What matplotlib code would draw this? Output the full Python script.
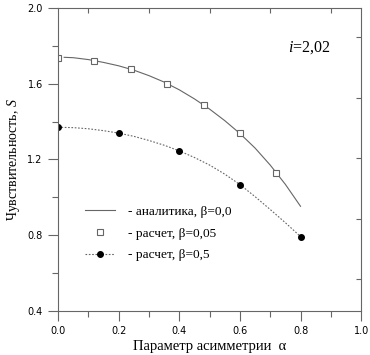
import matplotlib.pyplot as plt
from matplotlib.lines import Line2D

plt.rcParams['mathtext.fontset'] = 'custom'
plt.rcParams['mathtext.rm'] = 'Liberation Serif'
plt.rcParams['mathtext.it'] = 'Liberation Serif:italic'

# analytic curve, beta = 0.0
alpha_an = [0.02, 0.05, 0.1, 0.15, 0.2, 0.25, 0.3, 0.35, 0.4, 0.45, 0.5,
            0.55, 0.6, 0.65, 0.7, 0.75, 0.8]
s_an = [1.740, 1.738, 1.728, 1.713, 1.695, 1.672, 1.643, 1.609, 1.568, 1.520,
        1.466, 1.405, 1.337, 1.260, 1.170, 1.068, 0.952]

# calculated, beta = 0.05
alpha_sq = [0.0, 0.12, 0.24, 0.36, 0.48, 0.6, 0.72]
s_sq = [1.735, 1.721, 1.677, 1.601, 1.49, 1.339, 1.13]

# calculated, beta = 0.5
alpha_dot = [0.0, 0.05, 0.1, 0.15, 0.2, 0.25, 0.3, 0.35, 0.4, 0.45, 0.5,
             0.55, 0.6, 0.65, 0.7, 0.75, 0.8]
s_dot = [1.370, 1.368, 1.362, 1.352, 1.339, 1.322, 1.300, 1.275, 1.245, 1.210,
         1.170, 1.122, 1.067, 1.003, 0.935, 0.865, 0.792]
alpha_pts = [0.0, 0.2, 0.4, 0.6, 0.8]
s_pts = [1.37, 1.339, 1.245, 1.067, 0.792]

x_ticks = [0.0, 0.2, 0.4, 0.6, 0.8, 1.0]
x_minor = [0.1, 0.3, 0.5, 0.7, 0.9]
y_ticks = [0.4, 0.8, 1.2, 1.6, 2.0]
y_minor = [0.6, 1.0, 1.4, 1.8]
right_ticks = [0.566, 0.885, 1.21, 1.524, 1.845]

grey = '#666666'
serif = 'Liberation Serif'

fig = plt.figure(figsize=(3.7, 3.55), dpi=100)
ax = fig.add_axes([0.157, 0.125, 0.819, 0.852])

ax.plot(alpha_an, s_an, color=grey, lw=0.8)
ax.plot(alpha_sq, s_sq, ls='none', marker='s', ms=4, mfc='white', mec=grey, mew=0.8)
ax.plot(alpha_dot, s_dot, color=grey, lw=0.8, ls=(0, (1.5, 1.5)))
ax.plot(alpha_pts, s_pts, ls='none', marker='o', ms=4, color='black')

ax.set_xlim(0, 1)
ax.set_ylim(0.4, 2.0)
ax.set_xticks(x_ticks)
ax.set_xticklabels([f'{v:.1f}' for v in x_ticks])
ax.set_yticks(y_ticks)
ax.set_yticklabels([f'{v:.1f}' for v in y_ticks])
ax.set_xticks(x_minor, minor=True)
ax.set_yticks(y_minor, minor=True)
ax.tick_params(which='major', direction='out', length=7.5, width=0.8, color=grey,
               labelsize=7, pad=3.5)
ax.tick_params(which='minor', direction='out', length=4, width=0.8, color=grey)

for sp in ax.spines.values():
    sp.set_color(grey)
    sp.set_linewidth(0.8)

# inward ticks on top and right
ax_top = ax.secondary_xaxis('top')
ax_top.set_xticks(x_minor)
ax_top.tick_params(direction='in', length=3.8, width=0.8, color=grey, labeltop=False)
ax_top.spines['top'].set_visible(False)
ax_right = ax.secondary_yaxis('right')
ax_right.set_yticks(right_ticks)
ax_right.tick_params(direction='in', length=3.8, width=0.8, color=grey, labelright=False)
ax_right.spines['right'].set_visible(False)

ax.set_xlabel('Параметр асимметрии  α', family=serif, fontsize=10.5, labelpad=3)
ax.set_ylabel('Чувствительность, $\\mathit{S}$', family=serif, fontsize=10, labelpad=4)
ax.text(0.898, 0.855, '$\\mathit{i}$=2,02', transform=ax.transAxes, ha='right',
        family=serif, fontsize=11.5)

handles = [
    Line2D([], [], color=grey, lw=0.8),
    Line2D([], [], ls='none', marker='s', ms=4, mfc='white', mec=grey, mew=0.8),
    Line2D([], [], color=grey, lw=0.8, ls=(0, (1.5, 1.5)), marker='o', ms=4,
           mfc='black', mec='black'),
]
labels = ['- аналитика, β=0,0', '- расчет, β=0,05', '- расчет, β=0,5']
ax.legend(handles, labels, loc='lower left', bbox_to_anchor=(0.089, 0.163),
          frameon=False, prop={'family': serif, 'size': 9.6}, handlelength=2.25,
          handletextpad=1.0, labelspacing=0.7, borderpad=0, borderaxespad=0)

fig.savefig('out.png', dpi=100)
